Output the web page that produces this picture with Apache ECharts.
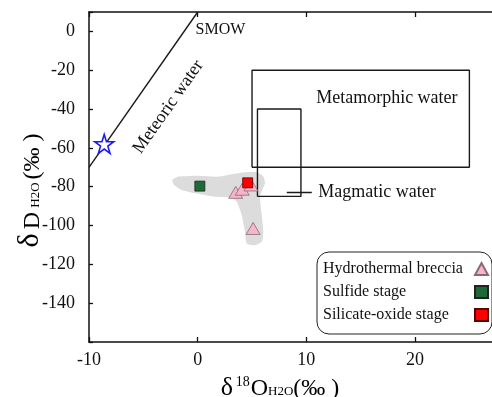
<!DOCTYPE html>
<html>
<head>
<meta charset="utf-8">
<script src="https://cdn.jsdelivr.net/npm/echarts@6/dist/echarts.min.js"></script>
<style>html,body{margin:0;padding:0;background:#fff}#c{width:492px;height:397px}</style>
</head>
<body>
<div id="c"></div>
<script>
// ---- data ----
const xTickLabels = [-10, 0, 10, 20];
const yTickLabels = [0, -20, -40, -60, -80, -100, -120, -140];
const hydrothermalBreccia = [[3.5, -82.9], [4.1, -81.3], [4.9, -79.1], [5.1, -101.5]];
const sulfideStage = [[0.2, -79.7]];
const silicateOxideStage = [[4.6, -78.0]];
const smowStar = [[-8.6, -58.0]];
const meteoricLine = [[-10, -70], [0, 10]];
const metamorphicBox = [5, 25, -70, -20];   // x0, x1, y0, y1
const magmaticBox = [5.5, 9.5, -85, -40];
const magmaticLeader = [[8.2, -83], [10.5, -83]];
const grayField = [
  [-2.34, -76.5], [-1.78, -74.8], [0.06, -74.3], [1.90, -74.8], [3.13, -73.6],
  [4.35, -72.6], [5.43, -72.6], [6.04, -74.8], [6.19, -78.2], [5.94, -81.7],
  [5.73, -85.2], [5.89, -94.6], [6.04, -103.2], [5.89, -108.4], [5.27, -110.1],
  [4.51, -109.2], [4.35, -103.2], [4.05, -94.6], [3.59, -87.7], [2.97, -85.7],
  [1.59, -85.2], [-0.25, -83.4], [-1.47, -81.7], [-2.15, -79.1]
];
const annotations = [
  { name: 'SMOW', value: [-0.2, 0.9], size: 16, rotate: 0, align: 'left' },
  { name: 'Meteoric water', value: [-2.7, -38.9], size: 18, rotate: 55, align: 'center' },
  { name: 'Metamorphic water', value: [10.9, -34.2], size: 18, rotate: 0, align: 'left' },
  { name: 'Magmatic water', value: [11.1, -82.7], size: 18, rotate: 0, align: 'left' }
];
const legendNames = ['Hydrothermal breccia', 'Sulfide stage', 'Silicate-oxide stage'];

// ---- helpers ----
const SERIF = '"Liberation Serif", "Times New Roman", serif';
const boxPath = b => [[b[0], b[2]], [b[1], b[2]], [b[1], b[3]], [b[0], b[3]], [b[0], b[2]]];
const lineSeries = (data) => ({
  type: 'line', data: data, symbol: 'none', silent: true, z: 3,
  lineStyle: { color: '#1a1a1a', width: 1.4 }, animation: false
});
const starPath = 'path://M50,2 L61,36 L97,36 L68,57 L79,92 L50,71 L21,92 L32,57 L3,36 L39,36 Z';

const chart = echarts.init(document.getElementById('c'), null, { renderer: 'canvas' });
const option = {
  animation: false,
  backgroundColor: '#fff',
  grid: { left: 89, top: 12, right: -10, bottom: 55, containLabel: false, outerBoundsMode: 'none' },
  xAxis: [{
    type: 'value', min: -10, max: 28, interval: 10, position: 'bottom',
    axisLine: { show: true, onZero: false, lineStyle: { color: '#111', width: 1.5 } },
    axisTick: { show: true, inside: true, length: 5, lineStyle: { color: '#111', width: 1.3 } },
    splitLine: { show: false },
    axisLabel: {
      margin: 9, fontFamily: SERIF, fontSize: 18, color: '#111',
      formatter: v => xTickLabels.includes(v) ? String(v) : ''
    }
  }, {
    type: 'value', min: -10, max: 28, interval: 10, position: 'top',
    axisLine: { show: true, onZero: false, lineStyle: { color: '#111', width: 1.5 } },
    axisTick: { show: true, inside: true, length: 5, lineStyle: { color: '#111', width: 1.3 } },
    splitLine: { show: false }, axisLabel: { show: false }
  }],
  yAxis: [{
    type: 'value', min: -160, max: 10, interval: 20,
    axisLine: { show: true, onZero: false, lineStyle: { color: '#111', width: 1.5 } },
    axisTick: { show: true, inside: true, length: 4, lineStyle: { color: '#111', width: 1.3 } },
    splitLine: { show: false },
    axisLabel: {
      margin: 14, fontFamily: SERIF, fontSize: 18, color: '#111',
      formatter: v => yTickLabels.includes(v) ? String(v) : ''
    }
  }],
  legend: {
    data: legendNames,
    orient: 'vertical', left: 317, top: 252, align: 'right',
    padding: [9, 3, 11, 6], itemGap: 7, itemWidth: 13, itemHeight: 12,
    borderColor: '#222', borderWidth: 1, borderRadius: 12, backgroundColor: '#fff',
    selectedMode: false,
    formatter: n => '{t|' + n + '}',
    textStyle: {
      rich: { t: { width: 147, align: 'left', fontFamily: SERIF, fontSize: 16, color: '#111' } }
    }
  },
  graphic: [
    {
      type: 'text', x: 279, y: 388, silent: true,
      style: {
        text: '{d|δ}{s|18}{a|O}{b|H2O}{p|(‰ )}',
        align: 'center', verticalAlign: 'middle',
        rich: {
          d: { fontFamily: SERIF, fontSize: 26, color: '#111', verticalAlign: 'bottom', width: 16 },
          s: { fontFamily: SERIF, fontSize: 14, color: '#111', verticalAlign: 'top', width: 16 },
          a: { fontFamily: SERIF, fontSize: 24, color: '#111', verticalAlign: 'bottom' },
          b: { fontFamily: SERIF, fontSize: 13, color: '#111', verticalAlign: 'bottom', padding: [0, 0, 3, 0], width: 25 },
          p: { fontFamily: SERIF, fontSize: 24, color: '#111', verticalAlign: 'bottom' }
        }
      }
    },
    {
      type: 'text', x: 30, y: 192, rotation: Math.PI / 2, silent: true,
      style: {
        text: '{d|δ}{a|D}{b|H2O}{p|(‰ )}',
        align: 'center', verticalAlign: 'middle',
        rich: {
          d: { fontFamily: SERIF, fontSize: 30, color: '#111', verticalAlign: 'bottom', width: 20 },
          a: { fontFamily: SERIF, fontSize: 24, color: '#111', verticalAlign: 'bottom', width: 20 },
          b: { fontFamily: SERIF, fontSize: 13, color: '#111', verticalAlign: 'bottom', padding: [0, 0, 3, 0], width: 31 },
          p: { fontFamily: SERIF, fontSize: 24, color: '#111', verticalAlign: 'bottom' }
        }
      }
    }
  ],
  series: [
    {
      type: 'custom', name: 'field', silent: true, z: 1,
      data: [[0, -80]],
      renderItem: (params, api) => ({
        type: 'polygon',
        shape: { points: grayField.map(p => api.coord(p)), smooth: 0.2 },
        style: { fill: '#dcdcdc' }
      })
    },
    lineSeries(meteoricLine),
    lineSeries(boxPath(metamorphicBox)),
    lineSeries(boxPath(magmaticBox)),
    lineSeries(magmaticLeader),
    {
      type: 'scatter', name: 'SMOW star', data: smowStar, symbol: starPath, symbolSize: 19, z: 5,
      itemStyle: { color: '#fff', borderColor: '#1a1aff', borderWidth: 1.6, opacity: 1 }
    },
    {
      type: 'scatter', name: legendNames[0], data: hydrothermalBreccia, symbol: 'triangle', symbolSize: [14, 12], z: 6,
      itemStyle: { color: '#f6b5cb', borderColor: '#8c6876', borderWidth: 0.8, opacity: 1 }
    },
    {
      type: 'scatter', name: legendNames[1], data: sulfideStage, symbol: 'rect', symbolSize: 10, z: 7,
      itemStyle: { color: '#1d6a36', borderColor: '#222', borderWidth: 0.8, opacity: 1 }
    },
    {
      type: 'scatter', name: legendNames[2], data: silicateOxideStage, symbol: 'rect', symbolSize: 10, z: 7,
      itemStyle: { color: '#ff0000', borderColor: '#5a0000', borderWidth: 0.8, opacity: 1 }
    },
    {
      type: 'scatter', name: 'annotations', symbolSize: 0, silent: true, z: 8,
      itemStyle: { opacity: 1 },
      data: annotations.map(a => ({
        name: a.name, value: a.value,
        label: {
          show: true, position: 'inside', formatter: '{b}', rotate: a.rotate,
          align: a.align, verticalAlign: 'middle',
          fontFamily: SERIF, fontSize: a.size, color: '#111', opacity: 1,
          textBorderWidth: 0
        }
      }))
    }
  ]
};
chart.setOption(option);
</script>
</body>
</html>
